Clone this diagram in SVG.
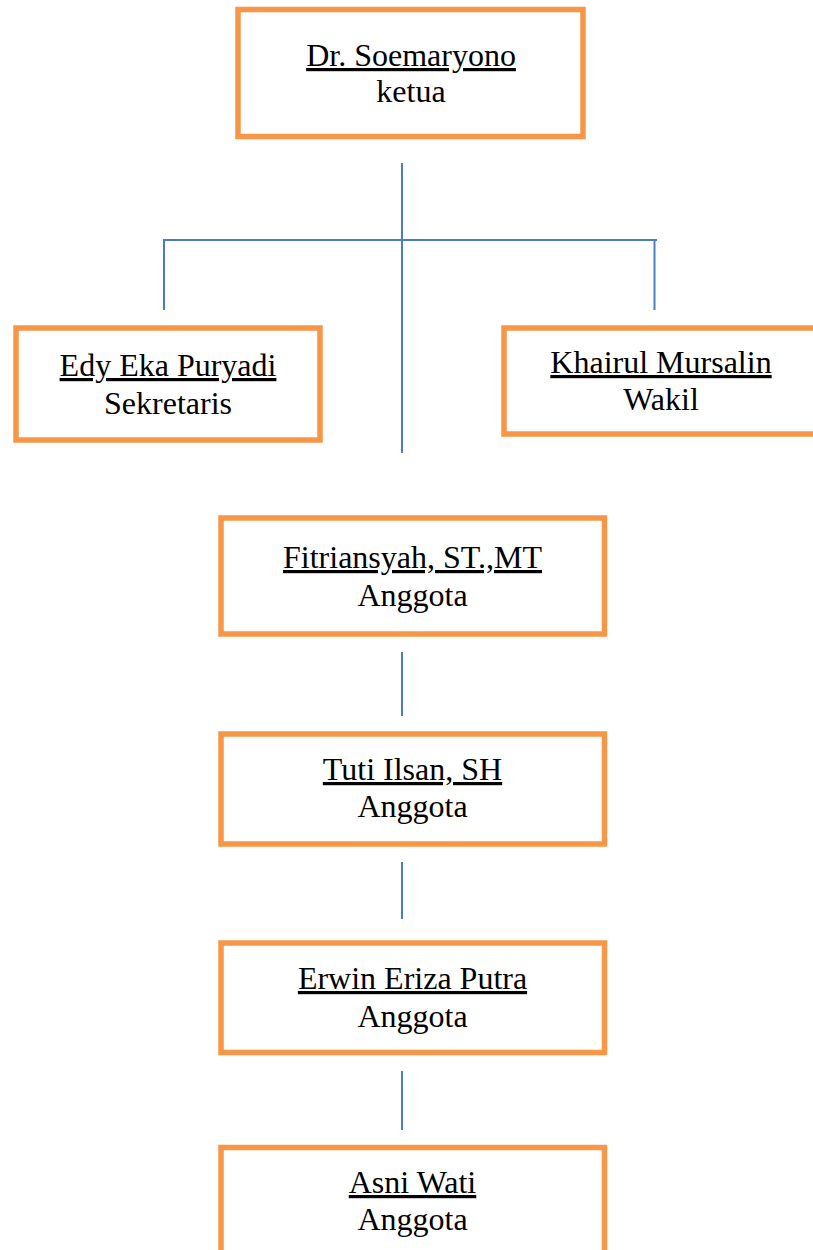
<svg xmlns="http://www.w3.org/2000/svg" width="813" height="1250" viewBox="0 0 813 1250">
<style>
.box{fill:#fff;stroke:#F79646;stroke-width:5.5}
.t{font-family:"Liberation Serif","Times New Roman",serif;font-size:32px;fill:#000;text-anchor:middle}
.u{text-decoration:underline}
.c{stroke:#4A7EBB;stroke-width:2;fill:none}
</style>
<rect width="813" height="1250" fill="#fff"/>
<g id="connectors">
<line class="c" x1="402" y1="163" x2="402" y2="453"/>
<polyline class="c" points="164,310 164,240 657,240"/>
<line class="c" x1="654.5" y1="240" x2="654.5" y2="310"/>
<line class="c" x1="402" y1="652" x2="402" y2="716"/>
<line class="c" x1="402" y1="862" x2="402" y2="919"/>
<line class="c" x1="402" y1="1071" x2="402" y2="1130"/>
</g>
<g id="ketua">
<rect class="box" x="238" y="9.5" width="345" height="127"/>
<text class="t u" x="411" y="66">Dr. Soemaryono</text>
<text class="t" x="411" y="102">ketua</text>
</g>
<g id="sekretaris">
<rect class="box" x="16" y="328" width="304" height="112"/>
<text class="t u" x="168" y="376">Edy Eka Puryadi</text>
<text class="t" x="168" y="414">Sekretaris</text>
</g>
<g id="wakil">
<rect class="box" x="504" y="328" width="314" height="106"/>
<text class="t u" x="661" y="373">Khairul Mursalin</text>
<text class="t" x="661" y="410">Wakil</text>
</g>
<g id="anggota1">
<rect class="box" x="221" y="518" width="383.5" height="116"/>
<text class="t u" x="412.5" y="568">Fitriansyah, ST.,MT</text>
<text class="t" x="412.5" y="606">Anggota</text>
</g>
<g id="anggota2">
<rect class="box" x="221" y="734" width="383.5" height="110"/>
<text class="t u" x="412.5" y="780">Tuti Ilsan, SH</text>
<text class="t" x="412.5" y="817">Anggota</text>
</g>
<g id="anggota3">
<rect class="box" x="221" y="943" width="383.5" height="109.5"/>
<text class="t u" x="412.5" y="989">Erwin Eriza Putra</text>
<text class="t" x="412.5" y="1027">Anggota</text>
</g>
<g id="anggota4">
<rect class="box" x="221" y="1147.5" width="383.5" height="120"/>
<text class="t u" x="412.5" y="1193">Asni Wati</text>
<text class="t" x="412.5" y="1230">Anggota</text>
</g>
</svg>
